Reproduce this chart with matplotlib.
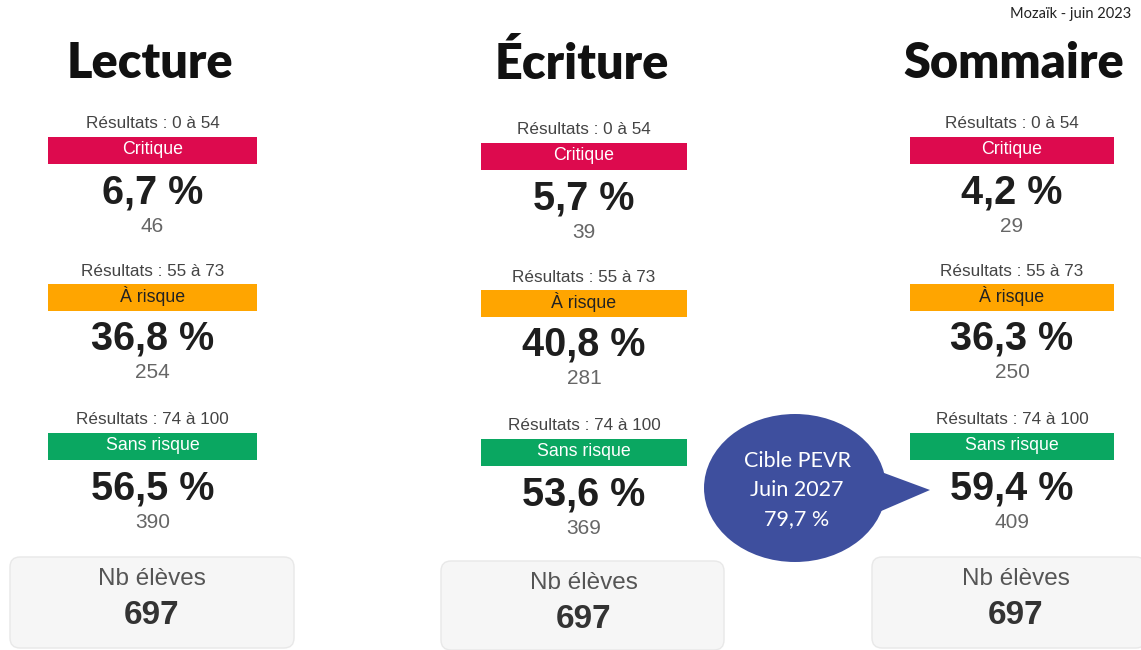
import matplotlib
matplotlib.use("Agg")
import matplotlib.pyplot as plt
from matplotlib.patches import Rectangle, FancyBboxPatch, Ellipse, Polygon

# Data
subjects = ["Lecture", "Écriture", "Sommaire"]
levels = ["Critique", "À risque", "Sans risque"]
ranges = ["Résultats : 0 à 54", "Résultats : 55 à 73", "Résultats : 74 à 100"]
lecture_pct = [6.7, 36.8, 56.5]
ecriture_pct = [5.7, 40.8, 53.6]
sommaire_pct = [4.2, 36.3, 59.4]
lecture_n = [46, 254, 390]
ecriture_n = [39, 281, 369]
sommaire_n = [29, 250, 409]
nb_eleves = [697, 697, 697]
target_pct = 79.7
source = "Mozaïk - juin 2023"

level_colors = ["#DD0A4E", "#FFA500", "#0AA761"]
pcts = [lecture_pct, ecriture_pct, sommaire_pct]
counts = [lecture_n, ecriture_n, sommaire_n]


def fr(v):
    return f"{v:.1f}".replace(".", ",") + " %"


W, H = 1141, 650
fig = plt.figure(figsize=(W / 100, H / 100), dpi=100)
ax = fig.add_axes([0, 0, 1, 1])
ax.set_xlim(0, W)
ax.set_ylim(H, 0)
ax.axis("off")

title_font = ["Lato", "DejaVu Sans"]
body_font = ["Liberation Sans", "DejaVu Sans"]

# layout per column: band left/right, vertical offset, box extent
band_x = [(48, 257), (481, 687), (910, 1114)]
title_x = [150, 582, 1014]
dy = [0, 6, 0]
box_x = [(10, 294), (441, 724), (872, 1146)]
box_y = [(557, 648), (561, 650), (557, 648)]
block_y = [124, 271, 420]

for c, subj in enumerate(subjects):
    ax.text(title_x[c], 64, subj, ha="center", va="center", fontsize=35,
            fontweight="heavy", family=title_font, color="#111111")
    x0, x1 = band_x[c]
    xc = (x0 + x1) / 2
    for k in range(3):
        y = block_y[k] + dy[c]
        ax.text(xc, y, ranges[k], ha="center", va="center", fontsize=12.3,
                family=body_font, color="#444444")
        ax.add_patch(Rectangle((x0, y + 13), x1 - x0, 27, color=level_colors[k], lw=0))
        tcol = "#222222" if k == 1 else "white"
        ax.text(xc, y + 25, levels[k], ha="center", va="center", fontsize=12.8,
                family=body_font, color=tcol)
        ax.text(xc, y + 68, fr(pcts[c][k]), ha="center", va="center", fontsize=28.5,
                fontweight="bold", family=body_font, color="#1E1E1E")
        ax.text(xc, y + 102, str(counts[c][k]), ha="center", va="center", fontsize=15,
                family=body_font, color="#666666")
    bx0, bx1 = box_x[c]
    by0, by1 = box_y[c]
    ax.add_patch(FancyBboxPatch((bx0, by0), bx1 - bx0, by1 - by0,
                                boxstyle="round,pad=0,rounding_size=10",
                                fc="#F6F6F6", ec="#E8E8E8", lw=1))
    bc = title_x[c] + 2
    ax.text(bc, by0 + 22, "Nb élèves", ha="center", va="center", fontsize=17.5,
            family=body_font, color="#555555")
    ax.text(bc, by0 + 59, str(nb_eleves[c]), ha="center", va="center", fontsize=24,
            fontweight="bold", family=body_font, color="#333333")

# speech bubble with target
bubble_col = "#3E4F9E"
ax.add_patch(Polygon([(876, 470), (930, 490), (872, 515)], closed=True,
                     fc=bubble_col, ec="none"))
ax.add_patch(Ellipse((795, 488), 182, 148, fc=bubble_col, ec="none"))
for txt, yy in zip(["Cible PEVR", "Juin 2027", fr(target_pct)], [461, 490, 519]):
    ax.text(797, yy, txt, ha="center", va="center", fontsize=15.5,
            family=title_font, color="white")

ax.text(1131, 14, source, ha="right", va="center", fontsize=10.5,
        family=title_font, color="#222222")

fig.savefig("out.png", dpi=100)
